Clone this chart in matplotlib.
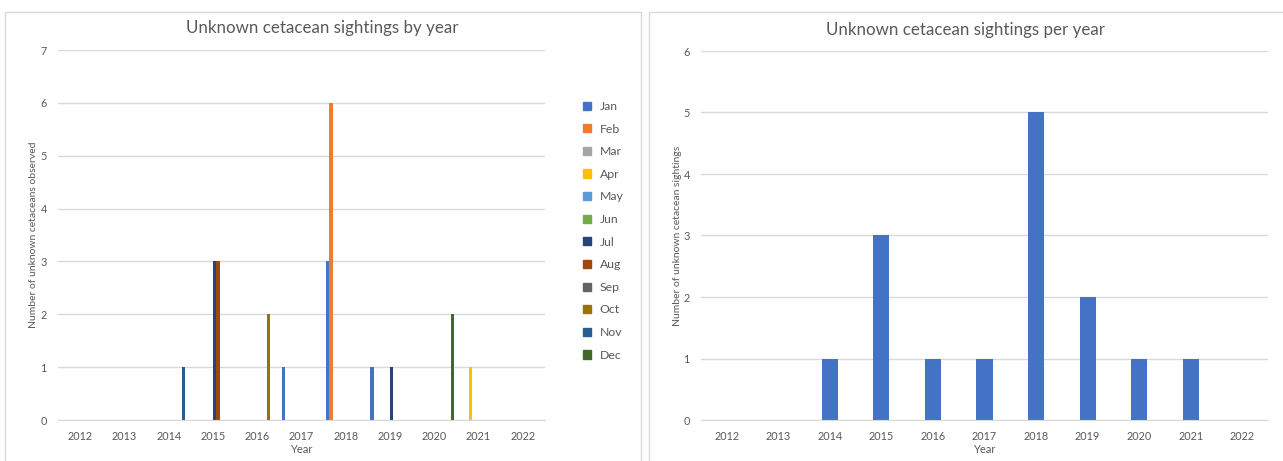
import matplotlib.pyplot as plt
from matplotlib.patches import Patch, Rectangle
import numpy as np

plt.rcParams['font.family'] = ['Lato', 'DejaVu Sans']

years = [2012, 2013, 2014, 2015, 2016, 2017, 2018, 2019, 2020, 2021, 2022]
months = ['Jan', 'Feb', 'Mar', 'Apr', 'May', 'Jun',
          'Jul', 'Aug', 'Sep', 'Oct', 'Nov', 'Dec']

# animals observed, one list per month (2012 .. 2022)
jan = [0, 0, 0, 0, 0, 1, 3, 1, 0, 0, 0]
feb = [0, 0, 0, 0, 0, 0, 6, 0, 0, 0, 0]
mar = [0, 0, 0, 0, 0, 0, 0, 0, 0, 0, 0]
apr = [0, 0, 0, 0, 0, 0, 0, 0, 0, 1, 0]
may = [0, 0, 0, 0, 0, 0, 0, 0, 0, 0, 0]
jun = [0, 0, 0, 0, 0, 0, 0, 0, 0, 0, 0]
jul = [0, 0, 0, 3, 0, 0, 0, 1, 0, 0, 0]
aug = [0, 0, 0, 3, 0, 0, 0, 0, 0, 0, 0]
sep = [0, 0, 0, 0, 0, 0, 0, 0, 0, 0, 0]
okt = [0, 0, 0, 0, 2, 0, 0, 0, 0, 0, 0]
nov = [0, 0, 1, 0, 0, 0, 0, 0, 0, 0, 0]
dec = [0, 0, 0, 0, 0, 0, 0, 0, 2, 0, 0]
per_month = [jan, feb, mar, apr, may, jun, jul, aug, sep, okt, nov, dec]

# sightings per year
sightings = [0, 0, 1, 3, 1, 1, 5, 2, 1, 1, 0]

month_colours = ['#4472C4', '#ED7D31', '#A5A5A5', '#FFC000', '#5B9BD5', '#70AD47',
                 '#264478', '#9E480E', '#636363', '#997300', '#255E91', '#43682B']

grey = '#595959'
grid = '#D9D9D9'

fig = plt.figure(figsize=(12.83, 4.61), dpi=100)

# chart frames
fig.patches.append(Rectangle((5/1283, -0.05), 636/1283, 1 - 12/461 + 0.05,
                             transform=fig.transFigure, fill=False,
                             edgecolor=grid, lw=1))
fig.patches.append(Rectangle((649/1283, -0.05), 640/1283, 1 - 12/461 + 0.05,
                             transform=fig.transFigure, fill=False,
                             edgecolor=grid, lw=1))


def style(ax, top):
    ax.set_xlim(-0.5, len(years) - 0.5)
    ax.set_ylim(0, top)
    ax.set_yticks(range(top + 1))
    ax.set_xticks(range(len(years)))
    ax.set_xticklabels(years)
    ax.grid(axis='y', color=grid, lw=1)
    ax.set_axisbelow(True)
    for s in ['top', 'right', 'left']:
        ax.spines[s].set_visible(False)
    ax.spines['bottom'].set_color(grid)
    ax.tick_params(length=0, labelsize=7.8, colors=grey, pad=8)
    ax.set_xlabel('Year', fontsize=8, color=grey, labelpad=1)


# left: animals observed by month and year
ax1 = fig.add_axes([58/1283, 1 - 420/461, 487/1283, 370/461])
x = np.arange(len(years))
w = 1 / 13.4
for i, (m, vals) in enumerate(zip(months, per_month)):
    ax1.bar(x + (i - 5.5) * w, vals, w, color=month_colours[i], label=m)
style(ax1, 7)
ax1.set_ylabel('Number of unknown cetaceans observed', fontsize=7.5, color=grey,
               labelpad=2)
fig.text(322/1283, 1 - 28/461, 'Unknown cetacean sightings by year',
         ha='center', va='center', fontsize=12.2, color=grey)

handles = [Patch(color=c, label=m) for c, m in zip(month_colours, months)]
fig.legend(handles=handles, loc='upper left',
           bbox_to_anchor=(572/1283, 1 - 90/461), frameon=False,
           fontsize=8.8, labelcolor=grey, handlelength=0.65, handleheight=0.65,
           handletextpad=0.7, labelspacing=0.95)

# right: sightings per year
ax2 = fig.add_axes([701/1283, 1 - 420/461, 567/1283, 369/461])
ax2.bar(x, sightings, 1 / 3.19, color='#4472C4')
style(ax2, 6)
ax2.set_ylabel('Number of unknown cetacean sightings', fontsize=7.5, color=grey,
               labelpad=1)
fig.text(966/1283, 1 - 30/461, 'Unknown cetacean sightings per year',
         ha='center', va='center', fontsize=12.2, color=grey)

fig.savefig('out.png', dpi=100)
